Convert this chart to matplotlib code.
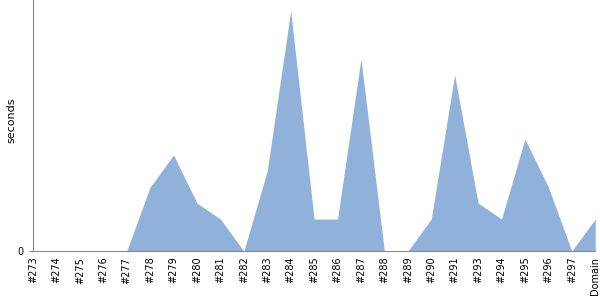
import matplotlib
matplotlib.use('Agg')
import matplotlib.pyplot as plt

labels = ['#273', '#274', '#275', '#276', '#277', '#278', '#279', '#280', '#281',
          '#282', '#283', '#284', '#285', '#286', '#287', '#288', '#289', '#290',
          '#291', '#293', '#294', '#295', '#296', '#297', 'Domain']
seconds = [0, 0, 0, 0, 0, 2, 3, 1.5, 1, 0, 2.5, 7.5, 1, 1, 6, 0, 0, 1,
           5.5, 1.5, 1, 3.5, 2, 0, 1]

fig = plt.figure(figsize=(6, 3), dpi=100)
ax = fig.add_axes([0.055, 0.163, 0.937, 0.837])
x = range(len(labels))
ax.fill_between(x, seconds, 0, color='#8fb1da', linewidth=0)
ax.set_xlim(0, len(labels) - 1)
ax.set_ylim(0, 7.84)
ax.set_yticks([0])
ax.set_xticks(list(x))
ax.set_xticklabels(labels, rotation=90, fontsize=7)
ax.tick_params(axis='y', labelsize=7, length=3, color='#888888')
ax.tick_params(axis='x', length=0, pad=4)
ax.set_ylabel('seconds', fontsize=8)
ax.yaxis.set_label_coords(-0.029, 0.52)
for s in ['top', 'right']:
    ax.spines[s].set_visible(False)
for s in ['left', 'bottom']:
    ax.spines[s].set_color('#888888')
fig.savefig('out.png', dpi=100)
